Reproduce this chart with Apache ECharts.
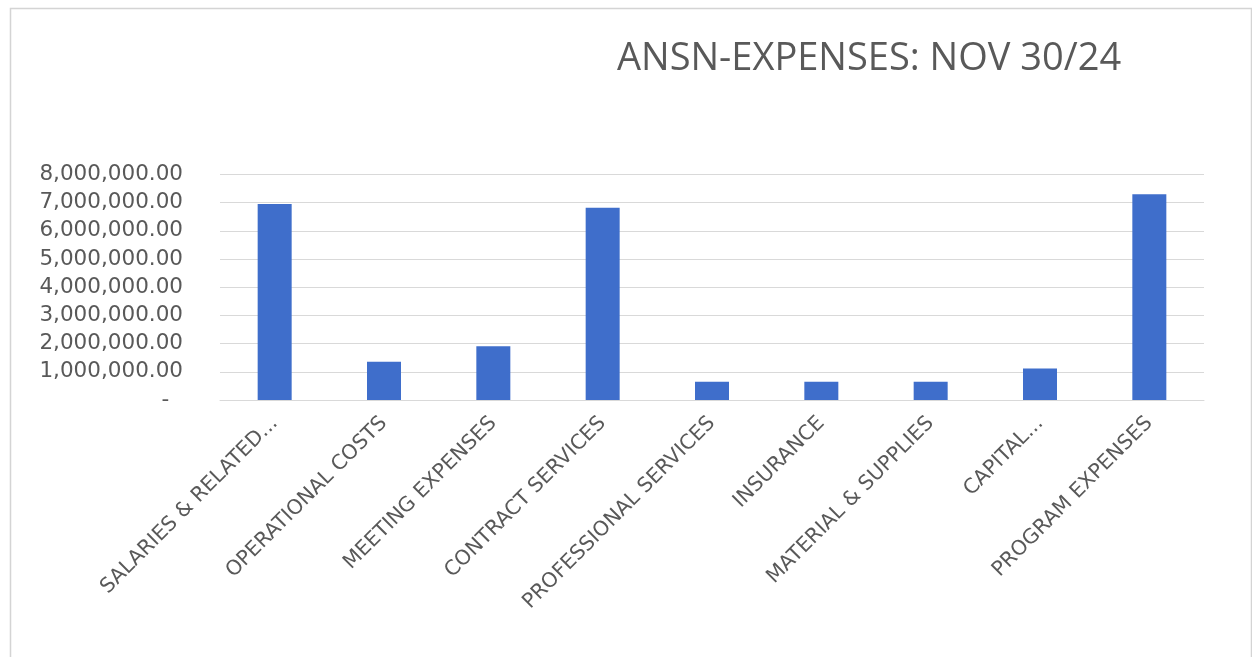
<!DOCTYPE html>
<html>
<head>
<meta charset="utf-8">
<script src="https://cdn.jsdelivr.net/npm/echarts@6/dist/echarts.min.js"></script>
<style>
html,body{margin:0;padding:0;background:#fff;}
#c{width:1252px;height:657px;}
</style>
</head>
<body>
<div id="c"></div>
<script>
const titleText = 'ANSN-EXPENSES: NOV 30/24';
const categories = ['SALARIES & RELATED...', 'OPERATIONAL COSTS', 'MEETING EXPENSES', 'CONTRACT SERVICES', 'PROFESSIONAL SERVICES', 'INSURANCE', 'MATERIAL & SUPPLIES', 'CAPITAL...', 'PROGRAM EXPENSES'];
const expenses = [6950000, 1360000, 1910000, 6820000, 650000, 650000, 650000, 1120000, 7300000];
const yMin = 0, yMax = 8000000, yStep = 1000000;

function fmt(v) {
  if (v === 0) return '-  ';
  return v.toLocaleString('en-US', {minimumFractionDigits: 2, maximumFractionDigits: 2});
}

const chart = echarts.init(document.getElementById('c'), null, {renderer: 'canvas'});
chart.setOption({
  animation: false,
  backgroundColor: '#ffffff',
  graphic: [{
    type: 'rect', left: 8, top: 6,
    shape: {width: 1241, height: 670},
    style: {fill: 'none', stroke: '#d4d4d4', lineWidth: 1.5}
  }],
  title: {
    text: titleText, left: 612, top: 35,
    textStyle: {fontFamily: 'Open Sans', fontSize: 38, fontWeight: 'normal', color: '#595959'}
  },
  grid: {left: 220, right: 48, top: 174.5, bottom: 257},
  xAxis: {
    type: 'category', data: categories,
    axisLine: {lineStyle: {color: '#d9d9d9', width: 1}},
    axisTick: {show: false},
    axisLabel: {rotate: 45, margin: 20, interval: 0, color: '#595959', fontFamily: 'DejaVu Sans', fontSize: 20.5}
  },
  yAxis: {
    type: 'value', min: yMin, max: yMax, interval: yStep,
    axisLine: {show: false}, axisTick: {show: false},
    splitLine: {lineStyle: {color: '#d9d9d9', width: 1}},
    axisLabel: {margin: 37, color: '#595959', fontFamily: 'DejaVu Sans', fontSize: 21.5, formatter: fmt}
  },
  series: [{
    type: 'bar', data: expenses, barWidth: 34,
    itemStyle: {color: '#3F6ECB'}
  }]
});
</script>
</body>
</html>
